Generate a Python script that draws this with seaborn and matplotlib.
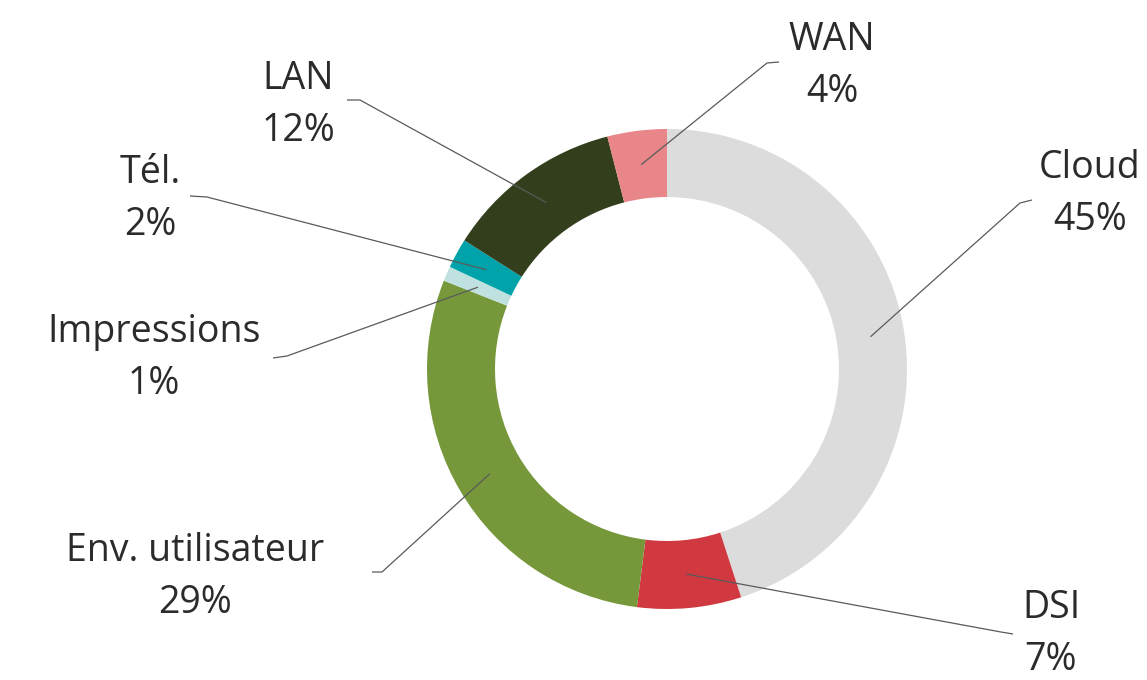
import numpy as np
import matplotlib
matplotlib.use("Agg")
import matplotlib.pyplot as plt
import seaborn as sns

# data (clockwise from 12 o'clock)
categories = ["Cloud", "DSI", "Env. utilisateur", "Impressions", "Tél.", "LAN", "WAN"]
shares = [45, 7, 29, 1, 2, 12, 4]
colors = ["#DCDCDC", "#D0393F", "#76983A", "#BFE1E0", "#00A3AA", "#333F1C", "#E8868A"]

sns.set_theme(style="white")
plt.rcParams["font.family"] = ["Open Sans", "DejaVu Sans"]

W, H = 1147, 680
fig = plt.figure(figsize=(W / 100, H / 100), dpi=100)
ax = fig.add_axes([0, 0, 1, 1])
ax.set_aspect("equal")
ax.axis("off")

cx, cy, R, ring = 667, H - 369, 240, 68
wedges, _ = ax.pie(shares, colors=sns.color_palette(colors), startangle=90,
                   counterclock=False, center=(cx, cy), radius=R,
                   wedgeprops=dict(width=ring, linewidth=0))
ax.set_xlim(0, W)
ax.set_ylim(0, H)

# label block centres and leader attach points (pixel coords from top-left)
label_pos = {
    "Cloud": (1090, 194), "DSI": (1051, 634), "Env. utilisateur": (195, 577),
    "Impressions": (154, 358), "Tél.": (150, 199), "LAN": (298, 105), "WAN": (832, 66),
}
attach = {
    "Cloud": ((1032, 200), (1020, 203)), "DSI": ((1013, 634), (1001, 632)),
    "Env. utilisateur": ((372, 572), (382, 572)), "Impressions": ((273, 358), (287, 356)),
    "Tél.": ((190, 196), (207, 197)), "LAN": ((347, 100), (360, 100)),
    "WAN": ((779, 62), (767, 63)),
}

r_mid = R - ring / 2
for w, name, val in zip(wedges, categories, shares):
    ang = np.deg2rad((w.theta1 + w.theta2) / 2)
    px, py = cx + r_mid * np.cos(ang), cy + r_mid * np.sin(ang)
    (ax_, ay_), (ex, ey) = attach[name]
    ax.plot([ax_, ex, px], [H - ay_, H - ey, py], color="#5a5a5a", lw=0.9,
            solid_capstyle="butt", zorder=3)
    tx, ty = label_pos[name]
    ax.text(tx, H - ty, f"{name}\n{val}%", ha="center", va="center",
            fontsize=27, color="#2b2b2b", linespacing=1.5)

fig.savefig("out.png", dpi=100)
